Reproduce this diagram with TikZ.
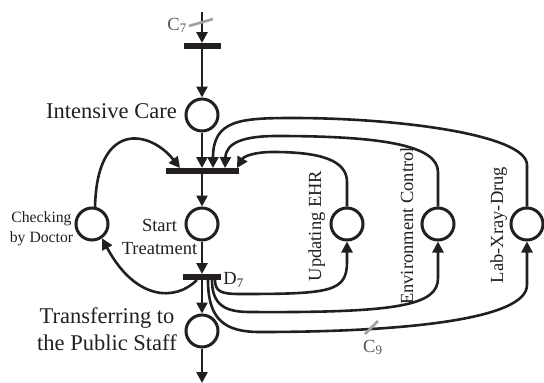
\documentclass[tikz,border=0pt]{standalone}
\usepackage{fontspec}
\setmainfont{Liberation Serif}
\usetikzlibrary{arrows.meta}
\usetikzlibrary{positioning}

\definecolor{ink}{HTML}{231F20}
\definecolor{tickgray}{HTML}{A0A0A0}
\definecolor{lblgray}{HTML}{555555}

\tikzset{
  place/.style={circle, draw=ink, line width=3pt, minimum size=32pt, inner sep=0pt},
  trans/.style={rectangle, fill=ink, minimum height=5.5pt, inner sep=0pt},
  arc/.style={->, draw=ink, line width=2.6pt},
  ctick/.style={draw=tickgray, line width=2.6pt},
  txtbig/.style={text=ink, font=\fontsize{22.5}{27}\selectfont, inner sep=0pt},
  txtmid/.style={text=ink, font=\fontsize{18.5}{23}\selectfont, inner sep=0pt},
  txtsmall/.style={text=ink, font=\fontsize{15.7}{20}\selectfont, inner sep=0pt},
  txtcol/.style={text=lblgray, font=\fontsize{18.5}{22}\selectfont, inner sep=0pt},
}

\begin{document}
\begin{tikzpicture}[x=1pt, y=-1pt, >={Triangle[length=11pt, width=11pt]}]
  \useasboundingbox (0,0) rectangle (544,383);

  % places
  \node[place] (ic) at (202,115) {};
  \node[place] (st) at (202,224) {};
  \node[place] (chk) at (92,224) {};
  \node[place] (tr) at (202,331) {};
  \node[place] (ehr) at (347,224) {};
  \node[place] (env) at (438,224) {};
  \node[place] (lab) at (527,224) {};

  % transitions
  \node[trans, minimum width=37pt] (t1) at (202,46) {};
  \node[trans, minimum width=73pt] (t2) at (202,171) {};
  \node[trans, minimum width=38pt] (t3) at (202,277) {};

  \coordinate (in) at (202,12);
  \coordinate (out) at (202,383);

  % labels
  \node[txtbig, anchor=base east] (iclbl) at (177,118) {Intensive Care};
  \node[txtmid, align=center] (stlbl) at (159.5,237.3) {Start\\Treatment};
  \node[txtsmall, align=center] (chklbl) at (41.5,228.4) {Checking\\by Doctor};
  \node[txtbig, align=center] (trlbl) at (107,328.8) {Transferring to\\the Public Staff};
  \node[txtmid, rotate=90, anchor=base] (ehrlbl) at (321,226) {Updating EHR};
  \node[txtmid, rotate=90, anchor=base] (envlbl) at (413,226) {Environment Control};
  \node[txtmid, rotate=90, anchor=base] (lablbl) at (503,225) {Lab-Xray-Drug};
  \node[txtmid, right=2pt of t3, yshift=-3pt] (d7) {D\textsubscript{7}};
  \node[txtcol, anchor=base east] (c7) at (187,30) {C\textsubscript{7}};
  \node[txtcol, anchor=base west] (c9) at (363,352) {C\textsubscript{9}};

  % main line
  \draw[arc] (in) -- (t1);
  \draw[arc] (t1) -- (ic);
  \draw[arc] (ic) -- (t2);
  \draw[arc] (t2) -- (st);
  \draw[arc] (st) -- (t3);
  \draw[arc] (t3) -- (tr);
  \draw[arc] (tr) -- (out);

  % doctor loop
  \draw[arc] ([xshift=-5pt]t3.south) .. controls (175,302) and (135,300) .. (chk.-55);
  \draw[arc] (chk.80) .. controls (97,120) and (150,130) .. ([xshift=-22pt]t2.north);

  % side activities back into t2
  \draw[arc] (ehr.north) -- (347,182) .. controls (347,160) and (320,152) .. (273,152)
    .. controls (255,152) and (244,156) .. ([xshift=35pt]t2.north);
  \draw[arc] (env.north) -- (438,172) .. controls (438,145) and (380,136) .. (277,136)
    .. controls (245,136) and (226,142) .. ([xshift=23pt]t2.north);
  \draw[arc] (lab.north) -- (527,165) .. controls (527,135) and (400,118) .. (293,118)
    .. controls (240,118) and (213,120) .. ([xshift=11pt]t2.north);

  % side activities out of t3
  \draw[arc] ([xshift=13pt]t3.south) .. controls (215,292) and (222,294) .. (240,294)
    .. controls (330,294) and (347,292) .. (347,262) -- (ehr.south);
  \draw[arc] ([xshift=10pt]t3.south) .. controls (212,305) and (225,312) .. (250,312)
    .. controls (400,313) and (438,305) .. (438,278) -- (env.south);
  \draw[arc] ([xshift=6pt]t3.south) .. controls (208,320) and (225,332) .. (260,332)
    .. controls (400,332) and (527,320) .. (527,285) -- (lab.south);

  % colour ticks
  \draw[ctick] (189,26) -- (213,19);
  \draw[ctick] (365,334) -- (378,321);
\end{tikzpicture}
\end{document}
